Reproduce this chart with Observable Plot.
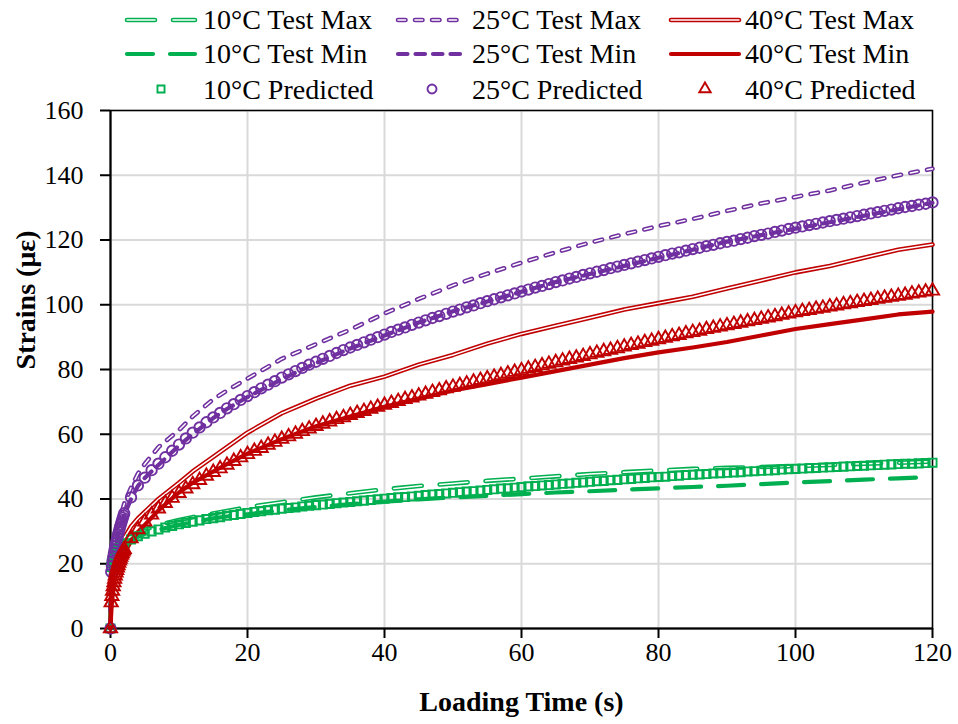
<!DOCTYPE html>
<html><head><meta charset="utf-8">
<script src="https://cdn.jsdelivr.net/npm/d3@7"></script>
<script src="https://cdn.jsdelivr.net/npm/@observablehq/plot@0.6"></script>
<style>
body{margin:0;background:#fff;}
#wrap{position:relative;width:958px;height:724px;font-family:"Liberation Serif","Times New Roman",serif;}
#wrap svg{display:block;font-family:"Liberation Serif","Times New Roman",serif;}
#wrap svg text{font-family:"Liberation Serif","Times New Roman",serif;}
#legend{position:absolute;left:0;top:0;}
</style></head><body><div id="wrap"></div>
<script>
// ---------- data ----------
const xTicks = [0, 20, 40, 60, 80, 100, 120];
const yTicks = [0, 20, 40, 60, 80, 100, 120, 140, 160];

// time grid of predicted points (s): 0..2 s every 0.1 s, then every 1 s
const predTime = d3.range(0, 21).map(i => i / 10).concat(d3.range(3, 121));

const pred10 = [0, 19.0, 20.2, 21.0, 21.7, 22.2, 22.7, 23.1, 23.5, 23.8, 24.1, 24.4, 24.7, 24.9, 25.2, 25.4, 25.6, 25.8, 26.0, 26.2, 26.3,
  27.5, 28.5, 29.3, 30.0, 30.6, 31.2, 31.7, 32.2, 32.6, 33.0, 33.4, 33.8, 34.1, 34.4, 34.8, 35.1, 35.4, 35.7,
  36.0, 36.2, 36.5, 36.7, 37.0, 37.2, 37.4, 37.7, 37.9, 38.1, 38.3, 38.5, 38.7, 38.9, 39.1, 39.3, 39.5, 39.7, 39.9, 40.1,
  40.3, 40.5, 40.6, 40.8, 41.0, 41.2, 41.4, 41.5, 41.7, 41.9, 42.1, 42.3, 42.4, 42.6, 42.8, 43.0, 43.2, 43.3, 43.5, 43.7,
  43.9, 44.0, 44.2, 44.3, 44.5, 44.7, 44.8, 45.0, 45.1, 45.3, 45.5, 45.6, 45.8, 45.9, 46.1, 46.2, 46.4, 46.5, 46.7, 46.8,
  46.9, 47.1, 47.2, 47.4, 47.5, 47.6, 47.7, 47.9, 48.0, 48.1, 48.2, 48.3, 48.5, 48.6, 48.7, 48.8, 48.9, 49.1, 49.2, 49.3,
  49.4, 49.5, 49.6, 49.7, 49.8, 49.9, 50.0, 50.1, 50.2, 50.3, 50.4, 50.5, 50.6, 50.7, 50.8, 50.9, 50.9, 51.0, 51.1, 51.2];

const pred25 = [0, 17.5, 19.3, 20.8, 22.1, 23.3, 24.4, 25.4, 26.4, 27.3, 28.2, 29.0, 29.8, 30.6, 31.4, 32.1, 32.8, 33.5, 34.2, 34.9, 35.6,
  40.5, 44.2, 46.6, 48.9, 50.9, 52.9, 54.9, 56.8, 58.7, 60.5, 62.1, 63.7, 65.2, 66.6, 68.0, 69.3, 70.6, 71.8,
  73.0, 74.2, 75.3, 76.4, 77.5, 78.5, 79.5, 80.5, 81.5, 82.4, 83.3, 84.2, 85.1, 86.0, 86.8, 87.6, 88.4, 89.2, 90.0, 90.8,
  91.6, 92.3, 93.0, 93.8, 94.5, 95.2, 95.9, 96.5, 97.2, 97.9, 98.5, 99.2, 99.8, 100.5, 101.1, 101.7, 102.3, 102.9, 103.5, 104.1,
  104.7, 105.3, 105.8, 106.4, 107.0, 107.5, 108.1, 108.6, 109.2, 109.7, 110.2, 110.7, 111.3, 111.8, 112.3, 112.8, 113.3, 113.8, 114.3, 114.8,
  115.3, 115.8, 116.2, 116.7, 117.2, 117.6, 118.1, 118.5, 119.0, 119.4, 119.8, 120.3, 120.7, 121.2, 121.6, 122.0, 122.5, 122.9, 123.4, 123.8,
  124.2, 124.6, 125.0, 125.4, 125.8, 126.2, 126.6, 127.0, 127.4, 127.8, 128.2, 128.6, 129.0, 129.4, 129.8, 130.2, 130.5, 130.9, 131.2, 131.6];

const pred40 = [0, 8.0, 10.0, 11.6, 13.0, 14.2, 15.3, 16.3, 17.2, 18.0, 18.8, 19.5, 20.2, 20.9, 21.5, 22.1, 22.7, 23.2, 23.7, 24.1, 24.5,
  27.8, 30.6, 33.0, 35.1, 37.0, 38.7, 40.3, 41.8, 43.2, 44.5, 45.8, 47.1, 48.3, 49.4, 50.5, 51.7, 52.8, 53.8,
  54.8, 55.7, 56.7, 57.6, 58.5, 59.3, 60.1, 60.9, 61.7, 62.5, 63.2, 63.9, 64.6, 65.2, 65.9, 66.5, 67.1, 67.8, 68.4, 69.0,
  69.6, 70.2, 70.8, 71.3, 71.9, 72.4, 73.0, 73.5, 74.1, 74.6, 75.1, 75.6, 76.2, 76.7, 77.2, 77.7, 78.2, 78.7, 79.2, 79.7,
  80.2, 80.7, 81.2, 81.7, 82.2, 82.7, 83.2, 83.6, 84.1, 84.6, 85.1, 85.6, 86.0, 86.5, 87.0, 87.5, 87.9, 88.4, 88.8, 89.3,
  89.7, 90.2, 90.6, 91.1, 91.5, 91.9, 92.4, 92.8, 93.2, 93.6, 94.0, 94.4, 94.8, 95.2, 95.6, 96.0, 96.4, 96.8, 97.2, 97.6,
  98.0, 98.3, 98.7, 99.0, 99.4, 99.7, 100.1, 100.4, 100.8, 101.1, 101.4, 101.8, 102.1, 102.4, 102.7, 103.0, 103.4, 103.7, 104.0, 104.3];

// test curves (s)
const testTime = [0, 0.1, 0.5, 1, 2, 3, 4, 5, 7, 10, 12, 15, 17, 20, 25, 30, 35, 40, 45, 50, 55, 60, 65, 70, 75, 80, 85, 90, 95, 100, 105, 110, 115, 120];
const test10Max = [0, 19, 23, 25, 27, 28.5, 29.6, 30.5, 32, 33.5, 34.4, 35.5, 36.3, 37.5, 39, 40.5, 41.8, 43, 44, 44.8, 45.6, 46.3, 47, 47.7, 48.3, 48.8, 49.3, 49.6, 49.9, 50.2, 50.5, 50.9, 51.2, 51.6];
const test10Min = [0, 19, 22.5, 24, 26, 27.3, 28.3, 29.2, 30.5, 32, 32.8, 34, 34.6, 35.3, 36.5, 37.5, 38.4, 39.2, 39.9, 40.5, 41, 41.5, 42, 42.4, 42.9, 43.3, 43.7, 44.1, 44.6, 45.1, 45.5, 46, 46.4, 46.8];
const test25Max = [0, 18, 26, 31, 38.5, 43.5, 47.8, 50.8, 56, 61.3, 65.5, 70.8, 73.5, 77.2, 83.3, 87.8, 92.3, 97.3, 101.8, 106, 109.6, 113, 116.2, 119.2, 121.8, 124.3, 126.5, 129, 131.3, 133.3, 135.3, 137.7, 140, 142];
const test25Min = [0, 17, 23, 28, 35, 40, 44, 46.5, 50.5, 56.5, 60, 65, 67.8, 71.5, 77, 82, 86.5, 90.5, 94.5, 98, 101, 104, 107, 109.5, 112, 114.5, 117, 119.5, 121.5, 123.5, 125.5, 127.5, 129.5, 131.5];
const test40Max = [0, 8, 17, 22, 28, 31.5, 34, 36, 40, 45, 48.5, 53, 56, 60.5, 66.5, 71, 75, 77.8, 81.5, 84.5, 88, 91, 93.5, 96, 98.5, 100.5, 102.5, 105, 107.5, 110, 112, 114.5, 117, 118.6];
const test40Min = [0, 6, 14, 18, 23, 27, 29.8, 32, 36.5, 42, 45, 48.5, 50.8, 54, 58.5, 62.5, 65.5, 68.5, 71, 73.5, 75.5, 77.5, 79.5, 81.5, 83.5, 85.3, 86.8, 88.5, 90.5, 92.5, 94, 95.5, 97, 97.9];

const seriesNames = ["10°C Test Max", "25°C Test Max", "40°C Test Max",
                     "10°C Test Min", "25°C Test Min", "40°C Test Min",
                     "10°C Predicted", "25°C Predicted", "40°C Predicted"];

// ---------- styles ----------
const FONT = '"Liberation Serif","Times New Roman",serif';
const GREEN = "#00b050", PURPLE = "#7030a0", RED = "#c00000";
const lineStyles = {
  "10°C Test Max": {color: GREEN, width: 4.6, dash: "28,18", double: true},
  "10°C Test Min": {color: GREEN, width: 4.2, dash: "26,17", double: false},
  "25°C Test Max": {color: PURPLE, width: 4.6, dash: "7.5,9.5", double: true},
  "25°C Test Min": {color: PURPLE, width: 4.2, dash: "9.5,8", double: false},
  "40°C Test Max": {color: RED, width: 4.6, dash: null, double: true},
  "40°C Test Min": {color: RED, width: 4.2, dash: null, double: false}
};
const markStyles = {
  "10°C Predicted": {color: GREEN, symbol: "square", r: 4.6},
  "25°C Predicted": {color: PURPLE, symbol: "circle", r: 5.2},
  "40°C Predicted": {color: RED, symbol: "triangle", r: 4.9}
};

const zip = (times, vals) => times.map((t, i) => ({t, v: vals[i]}));
const testData = {
  "10°C Test Max": zip(testTime, test10Max),
  "10°C Test Min": zip(testTime, test10Min),
  "25°C Test Max": zip(testTime, test25Max),
  "25°C Test Min": zip(testTime, test25Min),
  "40°C Test Max": zip(testTime, test40Max),
  "40°C Test Min": zip(testTime, test40Min)
};
const predData = {
  "10°C Predicted": zip(predTime, pred10),
  "25°C Predicted": zip(predTime, pred25),
  "40°C Predicted": zip(predTime, pred40)
};

function lineMarks(name) {
  const s = lineStyles[name], d = testData[name];
  const base = {x: "t", y: "v", strokeLinecap: "round", strokeLinejoin: "round"};
  const out = [Plot.line(d, {...base, stroke: s.color, strokeWidth: s.width, strokeDasharray: s.dash || undefined})];
  if (s.double) out.push(Plot.line(d, {...base, stroke: "#fff", strokeWidth: 1.5, strokeDasharray: s.dash || undefined}));
  return out;
}
function dotMarks(name) {
  const s = markStyles[name];
  return Plot.dot(predData[name], {x: "t", y: "v", symbol: s.symbol, r: s.r, stroke: s.color, fill: "none", strokeWidth: 1.9});
}

const chart = Plot.plot({
  width: 958, height: 724,
  marginTop: 110, marginLeft: 110, marginRight: 26, marginBottom: 96,
  style: {fontFamily: FONT, fontSize: "26px", color: "#000", background: "transparent", overflow: "visible"},
  x: {domain: [0, 120]},
  y: {domain: [0, 160]},
  marks: [
    Plot.gridX(xTicks, {stroke: "#d9d9d9", strokeOpacity: 1, strokeWidth: 2}),
    Plot.gridY(yTicks, {stroke: "#d9d9d9", strokeOpacity: 1, strokeWidth: 2}),
    Plot.frame({stroke: "#000", strokeWidth: 1.5}),
    Plot.ruleX([0], {stroke: "#000", strokeWidth: 2}),
    Plot.ruleY([0], {stroke: "#000", strokeWidth: 2}),
    Plot.axisX(xTicks, {tickSize: 10, tickPadding: 4, strokeWidth: 2, fontSize: 26, fontFamily: FONT, label: null}),
    Plot.axisY(yTicks, {tickSize: 10, tickPadding: 17, strokeWidth: 2, fontSize: 26, fontFamily: FONT, label: null}),
    Plot.text(["Loading Time (s)"], {frameAnchor: "bottom", dy: 74, fontWeight: "bold", fontSize: 28, fontFamily: FONT, lineAnchor: "middle"}),
    Plot.text(["Strains (με)"], {frameAnchor: "left", dx: -84, rotate: -90, fontWeight: "bold", fontSize: 28, fontFamily: FONT, lineAnchor: "middle"}),
    ...lineMarks("10°C Test Max"),
    ...lineMarks("10°C Test Min"),
    ...lineMarks("25°C Test Max"),
    ...lineMarks("25°C Test Min"),
    ...lineMarks("40°C Test Max"),
    ...lineMarks("40°C Test Min"),
    dotMarks("10°C Predicted"),
    dotMarks("25°C Predicted"),
    dotMarks("40°C Predicted")
  ]
});
const wrap = document.getElementById("wrap");
wrap.appendChild(chart);

// ---------- legend (3 x 3 grid above the plot) ----------
const colX = [{x0: 127, x1: 195, tx: 203}, {x0: 398, x1: 466, tx: 472}, {x0: 671, x1: 739, tx: 745}];
const rowY = [{ly: 20, ty: 29}, {ly: 54, ty: 63}, {ly: 89, ty: 99}];
const lg = d3.select(wrap).append("svg").attr("id", "legend").attr("width", 958).attr("height", 108);
seriesNames.forEach((name, i) => {
  const c = colX[i % 3], r = rowY[Math.floor(i / 3)];
  const g = lg.append("g");
  if (lineStyles[name]) {
    const s = lineStyles[name];
    const seg = g.append("line").attr("x1", c.x0).attr("x2", c.x1).attr("y1", r.ly).attr("y2", r.ly)
      .attr("stroke", s.color).attr("stroke-width", s.width).attr("stroke-linecap", "round");
    if (s.dash) seg.attr("stroke-dasharray", s.dash);
    if (s.double) {
      const inner = g.append("line").attr("x1", c.x0).attr("x2", c.x1).attr("y1", r.ly).attr("y2", r.ly)
        .attr("stroke", "#fff").attr("stroke-width", 1.5).attr("stroke-linecap", "round");
      if (s.dash) inner.attr("stroke-dasharray", s.dash);
    }
  } else {
    const s = markStyles[name];
    const sym = {square: d3.symbolSquare, circle: d3.symbolCircle, triangle: d3.symbolTriangle}[s.symbol];
    g.append("path").attr("d", d3.symbol(sym, Math.PI * s.r * s.r * 0.75)())
      .attr("transform", `translate(${(c.x0 + c.x1) / 2},${r.ly})`)
      .attr("fill", "none").attr("stroke", s.color).attr("stroke-width", 1.9);
  }
  g.append("text").attr("x", c.tx).attr("y", r.ty).text(name)
    .attr("font-size", 28).attr("font-family", FONT).attr("fill", "#000");
});
</script>
</body></html>
